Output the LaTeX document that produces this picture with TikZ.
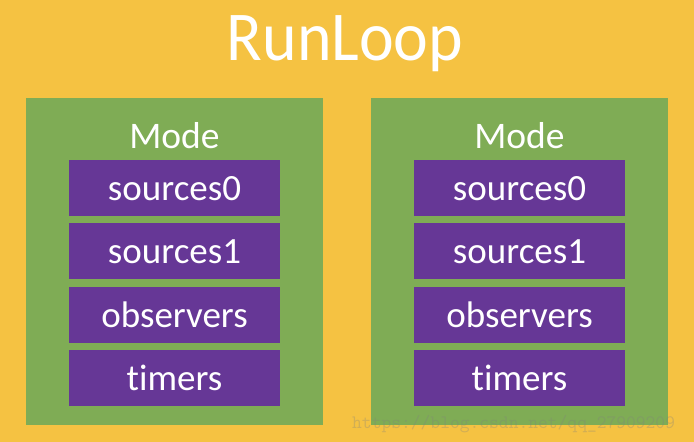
\documentclass[tikz,border=0pt]{standalone}
\usepackage{fontspec}
\setmainfont[Ligatures=NoCommon]{Carlito}
\definecolor{bgyellow}{RGB}{245,194,66}
\definecolor{modegreen}{RGB}{127,172,85}
\definecolor{itempurple}{RGB}{102,55,150}
\begin{document}
\begin{tikzpicture}[x=1pt,y=-1pt,
  itembox/.style={fill=itempurple,draw=none,minimum width=211pt,minimum height=56pt,inner sep=0pt,anchor=north west},
  itemtext/.style={text=white,font=\fontsize{37}{40}\selectfont,anchor=base,inner sep=0pt},
  modetext/.style={text=white,font=\fontsize{37.5}{40}\selectfont,anchor=base,inner sep=0pt}]
\fill[bgyellow] (0,0) rectangle (694,442);
\useasboundingbox (0,0) rectangle (694,442);
\node[text=white,font=\fontsize{70}{80}\selectfont,anchor=base,inner sep=0pt,xscale=0.94] (title) at (345,60) {RunLoop};
\foreach \side/\gx/\px in {L/26/69,R/371/414}{
  \fill[modegreen] (\gx,98) rectangle ++(297,327);
  \node[modetext] (mode\side) at (\gx+148.5,148) {Mode};
  \foreach \i/\t/\nm in {0/sources0/a,1/sources1/b,2/observers/c,3/timers/d}{
    \node[itembox] (box\side\nm) at (\px,159.5+63.5*\i) {};
    \node[itemtext] (txt\side\nm) at (\px+105.5,159.5+63.5*\i+40.5) {\t};
  }
}
\node[text=gray,opacity=0.3,font=\ttfamily\fontsize{19}{20}\selectfont,anchor=base west,inner sep=0pt] (wm) at (352,428) {https://blog.csdn.net/qq\_27909209};
\end{tikzpicture}
\end{document}
